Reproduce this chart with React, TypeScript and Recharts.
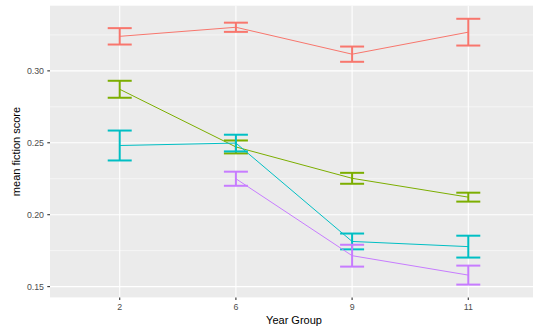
import { LineChart, Line, XAxis, YAxis, CartesianGrid, ErrorBar } from "recharts";

// year groups on the x axis (discrete)
const yearGroups = ["2", "6", "9", "11"];

// mean fiction score and standard error per group, null = no data for that year
const groupAMean = [0.324, 0.3303, 0.3116, 0.3269];
const groupASe = [0.0057, 0.0032, 0.0053, 0.0093];

const groupBMean = [0.2872, 0.2471, 0.2253, 0.2122];
const groupBSe = [0.0059, 0.0045, 0.0038, 0.0031];

const groupCMean = [0.2481, 0.2498, 0.1814, 0.1778];
const groupCSe = [0.0104, 0.0058, 0.0055, 0.0076];

const groupDMean = [null, 0.225, 0.1715, 0.158];
const groupDSe = [null, 0.0049, 0.0076, 0.0066];

const yTicks = [0.15, 0.2, 0.25, 0.3];
const yMinor = [0.175, 0.225, 0.275, 0.325];

const COLORS = ["#F8766D", "#7CAE00", "#00BFC4", "#C77CFF"];
const FONT = "'Liberation Sans', Arial, Helvetica, sans-serif";

const groups = [
  { mean: groupAMean, se: groupASe },
  { mean: groupBMean, se: groupBSe },
  { mean: groupCMean, se: groupCSe },
  { mean: groupDMean, se: groupDSe },
].map((g, k) => ({
  color: COLORS[k],
  data: yearGroups
    .map((_, i) => ({ x: i, mean: g.mean[i], err: g.se[i] }))
    .filter((d) => d.mean != null),
}));

const W = 538;
const H = 331;

export default function App() {
  return (
    <div style={{ position: "fixed", left: 0, top: 0, width: 533, height: 331, overflow: "hidden", background: "#fff" }}>
      <LineChart width={W} height={H} margin={{ top: 5.7, right: 0, bottom: 0, left: 0 }}>
        {/* panel background + minor grid */}
        <CartesianGrid
          fill="#EBEBEB"
          fillOpacity={1}
          stroke="#FFFFFF"
          strokeWidth={0.55}
          vertical={false}
          horizontalValues={yMinor}
        />
        {/* major grid */}
        <CartesianGrid stroke="#FFFFFF" strokeWidth={1.1} horizontalValues={yTicks} verticalValues={[0, 1, 2, 3]} />
        <XAxis
          dataKey="x"
          type="number"
          domain={[-0.6, 3.6]}
          ticks={[0, 1, 2, 3]}
          tickFormatter={(v) => yearGroups[v]}
          allowDuplicatedCategory={false}
          height={33.6}
          axisLine={false}
          tickLine={{ stroke: "#333333", strokeWidth: 1.1 }}
          tickSize={2.7}
          tickMargin={4.1}
          tick={{ fontSize: 8.8, fill: "#4D4D4D", fontFamily: FONT }}
          label={{
            content: () => (
              <text x={294} y={324} textAnchor="middle" fontSize={11} fill="#000" fontFamily={FONT}>
                Year Group
              </text>
            ),
          }}
        />
        <YAxis
          type="number"
          domain={[0.1425, 0.3453]}
          ticks={yTicks}
          tickFormatter={(v) => v.toFixed(2)}
          width={50}
          axisLine={false}
          tickLine={{ stroke: "#333333", strokeWidth: 1.1 }}
          tickSize={2.7}
          tickMargin={3.3}
          tick={{ fontSize: 8.8, fill: "#4D4D4D", fontFamily: FONT }}
          label={{
            content: () => (
              <text
                x={19.5}
                y={151.5}
                transform="rotate(-90, 19.5, 151.5)"
                textAnchor="middle"
                fontSize={11}
                fill="#000"
                fontFamily={FONT}
              >
                mean fiction score
              </text>
            ),
          }}
        />
        {groups.map((g, k) => (
          <Line
            key={k}
            data={g.data}
            dataKey="mean"
            type="linear"
            stroke={g.color}
            strokeWidth={1}
            dot={false}
            activeDot={false}
            isAnimationActive={false}
          >
            <ErrorBar
              dataKey="err"
              direction="y"
              width={12}
              stroke={g.color}
              strokeWidth={2}
              isAnimationActive={false}
            />
          </Line>
        ))}
      </LineChart>
    </div>
  );
}
